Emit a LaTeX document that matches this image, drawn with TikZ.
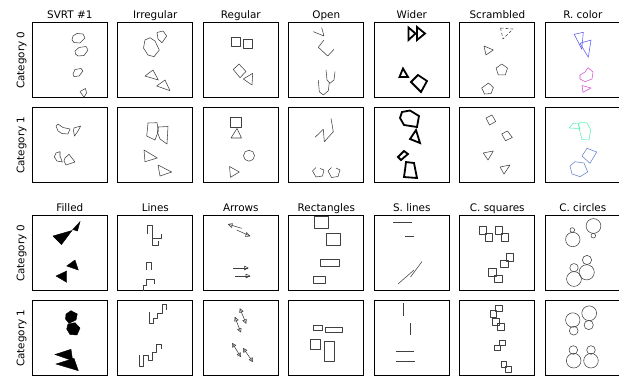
\documentclass[tikz,border=0pt]{standalone}
\usepackage{fontspec}
\setmainfont{DejaVu Sans}
\begin{document}
\begin{tikzpicture}[x=1pt,y=-1pt,
  frame/.style={draw=black,line width=0.9pt},
  sh/.style={draw=black!75,line width=0.55pt,line join=round},
  wd/.style={draw=black,line width=1.8pt,line join=miter},
  fl/.style={fill=black,draw=black,line width=0.4pt},
  ttl/.style={font=\fontsize{10.4}{12}\selectfont,anchor=base,inner sep=0pt},
  cat/.style={font=\fontsize{10.4}{12}\selectfont,rotate=90,inner sep=0pt}]
\useasboundingbox (0,0) rectangle (619,378);
% frames
\foreach \x in {32.3,117.8,203.3,288.8,374.3,459.8,545.3}{
  \foreach \y in {22.7,107.7,215.7,300.7}{
    \draw[frame] (\x,\y) rectangle ++(75,75);}}
% titles
\node[ttl] (t1) at (69.8,18.6) {SVRT \#1};
\node[ttl] (t2) at (155.3,18.6) {Irregular};
\node[ttl] (t3) at (240.8,18.6) {Regular};
\node[ttl] (t4) at (326.3,18.6) {Open};
\node[ttl] (t5) at (411.8,18.6) {Wider};
\node[ttl] (t6) at (497.3,18.6) {Scrambled};
\node[ttl] (t7) at (582.8,18.6) {R. color};
\node[ttl] (u1) at (69.8,211.1) {Filled};
\node[ttl] (u2) at (155.3,211.1) {Lines};
\node[ttl] (u3) at (240.8,211.1) {Arrows};
\node[ttl] (u4) at (326.3,211.1) {Rectangles};
\node[ttl] (u5) at (411.8,211.1) {S. lines};
\node[ttl] (u6) at (497.3,211.1) {C. squares};
\node[ttl] (u7) at (582.8,211.1) {C. circles};
\node[cat] (c1) at (21.7,60.2) {Category 0};
\node[cat] (c2) at (21.7,145.2) {Category 1};
\node[cat] (c3) at (21.7,253.2) {Category 0};
\node[cat] (c4) at (21.7,338.2) {Category 1};
% ---------- Row 1 ----------
% SVRT #1 cat 0
\draw[sh] (73,36)--(77,33.5)--(83,34)--(85,38)--(80,43)--(74,42.5)--(72,40)--cycle;
\draw[sh] (75,51)--(79,47.5)--(86,46.5)--(88,50)--(84,55.5)--(78,56)--(75.5,54)--cycle;
\draw[sh] (73,74)--(75,69.5)--(81,68.5)--(83,71)--(79,76)--(74,76.5)--cycle;
\draw[sh] (80,91.5)--(85.5,88.5)--(86.5,93)--(84,97.3);
\draw[sh] (80,91.5)--(84,97.3);
% Irregular cat 0
\draw[sh] (145,40)--(150,37.7)--(155,41)--(159.3,50)--(154,56.7)--(148,55)--(143.5,48)--cycle;
\draw[sh] (157,32.5)--(163,31)--(166.7,36)--(162,42.7)--(158,39)--cycle;
\draw[sh] (145,76)--(153,70)--(158.3,80)--cycle;
\draw[sh] (156.7,86)--(165,80)--(170,90.7)--cycle;
% Regular cat 0
\draw[sh] (231,37.7) rectangle (240,46.7);
\draw[sh] (243.3,39.3) rectangle (252.3,48.3);
\draw[sh] (233.3,69.5)--(239,64)--(246,71.5)--(240,77.7)--cycle;
\draw[sh] (243.3,79)--(252.7,73.3)--(252,85)--cycle;
% Open cat 0
\draw[sh] (313.3,31.7)--(324,36)--(321.7,27.7);
\draw[sh] (324,40)--(318.3,47.3)--(327.7,56)--(334,49.3);
\draw[sh] (326,70)--(327,80)--(330,83.3)--(334,80)--(335,71.7);
\draw[sh] (318.3,80)--(319.3,91.7)--(323.3,95)--(328.3,90.7)--(329.3,82.7);
% Wider cat 0
\draw[wd] (408.5,27.5)--(415.5,33.5)--(408.5,40)--cycle;
\draw[wd] (417,27)--(425,33.5)--(417,40)--cycle;
\draw[wd] (399.5,77)--(403,68.5)--(408,77)--cycle;
\draw[wd] (411,82)--(418,75)--(427,81)--(421,92)--cycle;
% Scrambled cat 0
\draw[sh,dash pattern=on 3pt off 2pt] (500.5,28)--(513,29)--(503,39)--cycle;
\draw[sh] (484,46)--(493.3,50)--(486,55)--cycle;
\draw[sh] (501.8,64)--(507.5,68.1)--(505.3,74.9)--(498.3,74.9)--(496.1,68.1)--cycle;
\draw[sh] (488.5,83)--(493.4,87.5)--(491,93.6)--(484.5,94)--(481.7,88)--cycle;
% R. color cat 0
\definecolor{rblue}{RGB}{90,90,240}
\definecolor{rmag}{RGB}{210,80,210}
\definecolor{rmint}{RGB}{90,240,180}
\definecolor{rsteel}{RGB}{100,130,200}
\draw[sh,draw=rblue] (574.3,34.3)--(583.3,32.3)--(581.7,49.3)--cycle;
\draw[sh,draw=rblue] (580,43.3)--(591,40)--(588.3,57.3)--cycle;
\draw[sh,draw=rmag] (580,75)--(585,72)--(588,67.7)--(593,72)--(592,79)--(585,81.7)--(580,79)--cycle;
\draw[sh,draw=rmag] (582,85.5)--(591,88)--(583,92.3)--cycle;
% ---------- Row 2 ----------
% SVRT cat 1
\draw[sh] (56,126)--(58,124)--(63,127.5)--(70,129)--(68,134)--(62,133.5)--(58,131)--cycle;
\draw[sh] (74,128)--(80.7,126)--(78,131)--(74.5,136)--(73.5,131)--cycle;
\draw[sh] (56,153)--(60,151.7)--(60,156)--(62.3,162)--(57,161)--(54.3,157)--cycle;
\draw[sh] (65,158)--(69,154.3)--(75,162)--(66,165)--(64,161)--cycle;
% Irregular cat 1
\draw[sh] (148,123)--(157,122.7)--(158.3,131)--(155,140)--(146.7,136)--cycle;
\draw[sh] (158.5,127)--(168,126.5)--(167,144)--(160,139)--(157.3,132)--cycle;
\draw[sh] (144,150)--(157.3,158)--(145,161.7)--cycle;
\draw[sh] (158,165)--(171.7,172)--(160,176)--cycle;
% Regular cat 1
\draw[sh] (230.5,117) rectangle (241,127.5);
\draw[sh] (231,138)--(237,128.5)--(241.5,138)--cycle;
\draw[sh] (249,155.7) circle (5.5);
\draw[sh] (229.5,166.5)--(239.3,172)--(230.5,177.3)--cycle;
% Open cat 1
\draw[sh] (315,137.3)--(323.3,129.3)--(324.3,141.7)--(333.3,131.7)--(331,118.3);
\draw[sh] (316,167.5)--(312.5,171)--(316,177)--(322.5,176)--(324,170)--(320,168.5);
\draw[sh] (331.5,167.5)--(328,171)--(331.5,177.5)--(338,176.5)--(340,170)--(336,168);
% Wider cat 1
\draw[wd] (402,112)--(410,110.5)--(419,116)--(417,127)--(404,125)--(400,118)--cycle;
\draw[wd] (416,130)--(420,143)--(410,139)--cycle;
\draw[wd] (398,157)--(404,151)--(408,154)--(401,160)--cycle;
\draw[wd] (406,162)--(414,163)--(417,178)--(404,177)--(405,170)--cycle;
% Scrambled cat 1
\draw[sh] (486,118)--(492,115)--(495.7,121.5)--(489.5,125)--cycle;
\draw[sh] (501.7,134)--(507.5,131)--(512.3,137.5)--(505.5,140.7)--cycle;
\draw[sh] (483.3,153)--(493.3,151)--(488,160)--cycle;
\draw[sh] (500,167)--(510,165)--(504,174)--cycle;
% R. color cat 1
\draw[sh,draw=rmint] (569,128)--(573,123.5)--(578,123)--(580,128.5)--cycle;
\draw[sh,draw=rmint] (578.3,124)--(581,122)--(587,123)--(590.7,130)--(589,140)--(582,139.5)--(580,132)--cycle;
\draw[sh,draw=rsteel] (582,156)--(587,148.3)--(596.7,152)--(590,163.3)--cycle;
\draw[sh,draw=rsteel] (570,166)--(575,161.7)--(584,163)--(587.7,172)--(580,176.7)--(572,174)--cycle;
% ---------- Row 3 ----------
% Filled cat 0
\draw[fl] (53,236)--(72,230.5)--(61.5,244.5)--cycle;
\draw[fl] (72.7,229.5)--(80,221.7)--(77.5,231)--cycle;
\draw[fl] (66.7,266)--(75,260)--(78.3,270)--cycle;
\draw[fl] (56,276)--(66.7,271)--(66.7,282.3)--cycle;
% Lines cat 0
\draw[sh] (147,234)--(147,225)--(152.5,225)--(152.5,238)--(161.5,238)--(161.5,234)
  (152.5,238)--(152.5,245)--(158,245)--(158,241);
\draw[sh] (146,270)--(146,262)--(151.5,262)--(151.5,270)
  (143.3,290.7)--(143.3,285)--(146,285)--(146,279)--(154,279)--(154,284);
% Arrows cat 0
\draw[sh] (228.3,224.3)--(241.7,228.3);
\draw[sh] (228.3,224.3)--(232.5,223.6)--(231.6,227.5)--cycle;
\draw[sh] (236.7,230)--(250,236);
\draw[sh] (250,236)--(245.5,236.5)--(246.5,232.5)--cycle;
\draw[sh] (233.3,268)--(248.3,268);
\draw[sh] (248.3,268)--(244.3,266)--(244.3,270)--cycle;
\draw[sh] (235,276)--(250,276);
\draw[sh] (250,276)--(246,274)--(246,278)--cycle;
% Rectangles cat 0
\draw[sh] (314.3,216) rectangle (328.3,228.3);
\draw[sh] (326.7,233.3) rectangle (340.7,245.7);
\draw[sh] (320.7,259.3) rectangle (339.3,266);
\draw[sh] (313.3,276) rectangle (325,283.3);
% S. lines cat 0
\draw[sh] (393,222.5)--(412,222.5);
\draw[sh] (405,236.5)--(414,236.5);
\draw[sh] (398,284)--(414,270);
\draw[sh] (410.5,277)--(422,261.5);
% C. squares cat 0
\draw[sh] (479,226.7) rectangle ++(7.7,7.7);
\draw[sh] (485,233.3) rectangle ++(7.7,7.7);
\draw[sh] (495,226.7) rectangle ++(7.7,7.7);
\draw[sh] (501,233.3) rectangle ++(7.7,7.7);
\draw[sh] (506,253.3) rectangle ++(7.7,7.7);
\draw[sh] (500.5,260) rectangle ++(7.7,7.7);
\draw[sh] (488.3,268.5) rectangle ++(7.7,7.7);
\draw[sh] (494.3,275) rectangle ++(7.7,7.7);
% C. circles cat 0
\draw[sh] (572.3,230) circle (2.3);
\draw[sh] (572.8,239.5) circle (7.2);
\draw[sh] (593.5,226) circle (7.4);
\draw[sh] (593.3,235.7) circle (2.3);
\draw[sh] (574,267.7) circle (4.2);
\draw[sh] (574,279) circle (7.4);
\draw[sh] (587,260) circle (4.6);
\draw[sh] (586.7,272.3) circle (7.6);
% ---------- Row 4 ----------
% Filled cat 1
\draw[fl] (66,314)--(71,310.7)--(77.3,314)--(76,320)--(69,323.3)--(65.5,319)--cycle;
\draw[fl] (68,324)--(75,322.7)--(80,328)--(77,335)--(70,334.5)--(66.7,329)--cycle;
\draw[fl] (55,354.5)--(71,349.3)--(72.7,360.7)--cycle;
\draw[fl] (56,364)--(74,358.3)--(78.3,370.7)--cycle;
% Lines cat 1
\draw[sh] (149,312)--(149,323)--(153.5,323)--(153.5,318)--(157,318)--(157,313)--(162,313)--(162,304.5)--(166.5,304.5)--(166.5,310);
\draw[sh] (139,355)--(139,366)--(143.5,366)--(143.5,355)--(148,355)--(148,360)--(152,360)--(152,352)--(156.5,352)--(156.5,344)--(161,344)--(161,349);
% Arrows cat 1
\draw[sh] (240,308.7)--(246,323.3);
\draw[sh] (240,308.7)--(243.2,311.3)--(239.6,312.6)--cycle;
\draw[sh] (246,323.3)--(242.7,320.6)--(246.4,319.4)--cycle;
\draw[sh] (235,317.3)--(240.7,332);
\draw[sh] (235,317.3)--(238.3,320)--(234.6,321.3)--cycle;
\draw[sh] (240.7,332)--(237.5,329.4)--(241.2,328.2)--cycle;
\draw[sh] (232.3,343.3)--(240.7,356.7);
\draw[sh] (232.3,343.3)--(235.9,345.4)--(232.5,347.3)--cycle;
\draw[sh] (240.7,356.7)--(237.1,354.6)--(240.5,352.7)--cycle;
\draw[sh] (243.3,348.3)--(252.7,361.7);
\draw[sh] (243.3,348.3)--(246.9,350.3)--(243.6,352.5)--cycle;
\draw[sh] (252.7,361.7)--(249.1,359.7)--(252.4,357.5)--cycle;
% Rectangles cat 1
\draw[sh] (313.3,325) rectangle (322.7,330);
\draw[sh] (325,327.3) rectangle (342.7,332.3);
\draw[sh] (310.7,339.3) rectangle (320.7,349.3);
\draw[sh] (324.3,341.7) rectangle (334,361);
% S. lines cat 1
\draw[sh] (403,303)--(403,316);
\draw[sh] (410,323)--(410,335);
\draw[sh] (396,351)--(414,351);
\draw[sh] (396,361)--(415,361);
% C. squares cat 1
\draw[sh] (495.7,305) rectangle ++(6.7,6.7);
\draw[sh] (490,310.7) rectangle ++(6.7,6.7);
\draw[sh] (492.3,318.3) rectangle ++(6.7,6.7);
\draw[sh] (497.7,323.3) rectangle ++(6.7,6.7);
\draw[sh] (499.3,340) rectangle ++(5.7,5.7);
\draw[sh] (494.3,345) rectangle ++(5.7,5.7);
\draw[sh] (501,361.7) rectangle ++(5.7,5.7);
\draw[sh] (505.7,366.7) rectangle ++(5.7,5.7);
% C. circles cat 1
\draw[sh] (572.8,320) circle (7.2);
\draw[sh] (573.7,330.7) circle (4.4);
\draw[sh] (589.2,313.3) circle (7.4);
\draw[sh] (588.7,325) circle (4.6);
\draw[sh] (573.3,350) circle (4.3);
\draw[sh] (573.7,360.7) circle (7.3);
\draw[sh] (591,350) circle (4.3);
\draw[sh] (591,360.7) circle (7.3);
\end{tikzpicture}
\end{document}
